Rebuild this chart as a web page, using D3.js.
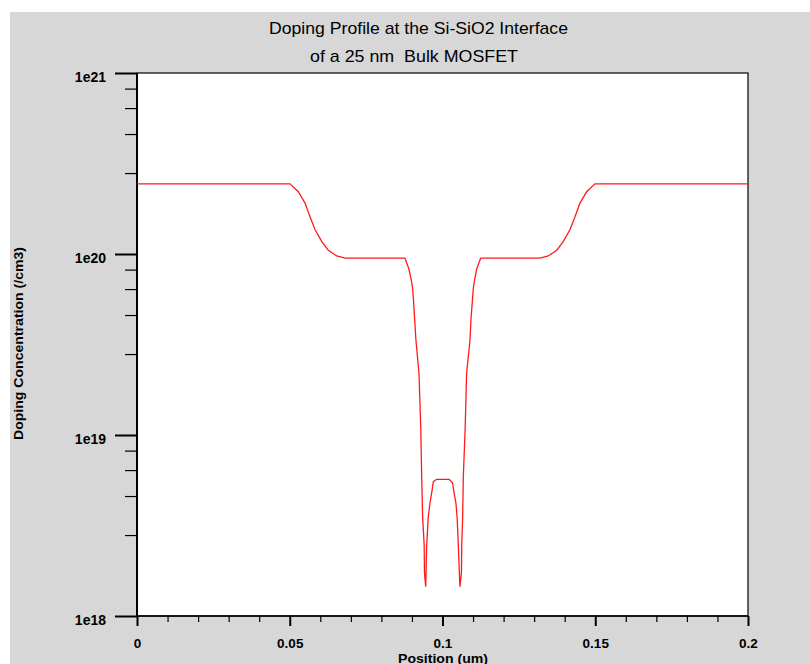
<!DOCTYPE html>
<html><head><meta charset="utf-8">
<script src="https://cdn.jsdelivr.net/npm/d3@7/dist/d3.min.js"></script>
<style>body{margin:0;background:#fff;} svg{display:block}</style>
</head><body>
<script>
const titleLines = ["Doping Profile at the Si-SiO2 Interface", "of a 25 nm  Bulk MOSFET"];
const xLabel = "Position (um)";
const yLabel = "Doping Concentration (/cm3)";

const positions = [
  0, 0.0501, 0.0528, 0.0550, 0.0566, 0.0583, 0.0605, 0.0626, 0.0654, 0.0681,
  0.0877, 0.0890, 0.0897, 0.0902, 0.0905, 0.0909, 0.0913, 0.0923, 0.0929, 0.0932,
  0.0935, 0.0940, 0.0941, 0.0945,
  0.0948, 0.0953, 0.0959, 0.0965, 0.0970, 0.0981, 0.1022, 0.1033, 0.1038, 0.1044,
  0.1048, 0.1052,
  0.1057, 0.1062, 0.1063, 0.1066, 0.1068, 0.1074, 0.1079, 0.1090, 0.1093, 0.1098,
  0.1101, 0.1105, 0.1112, 0.1125,
  0.1319, 0.1346, 0.1374, 0.1395, 0.1417, 0.1434, 0.1450, 0.1472, 0.1499, 0.2
];
const doping = [
  2.44e20, 2.44e20, 2.21e20, 1.91e20, 1.61e20, 1.36e20, 1.17e20, 1.05e20, 9.75e19, 9.5e19,
  9.5e19, 8.26e19, 7.28e19, 6.49e19, 5.57e19, 4.32e19, 3.35e19, 2.2e19, 1.07e19, 5.78e18,
  3.53e18, 2.47e18, 1.73e18, 1.45e18,
  2.41e18, 3.47e18, 4.21e18, 4.84e18, 5.52e18, 5.69e18, 5.69e18, 5.43e18, 4.78e18, 4.21e18,
  3.47e18, 2.41e18,
  1.45e18, 1.73e18, 2.47e18, 3.53e18, 5.78e18, 1.07e19, 2.2e19, 3.35e19, 4.32e19, 5.57e19,
  6.49e19, 7.2e19, 8.26e19, 9.5e19,
  9.5e19, 9.75e19, 1.05e20, 1.17e20, 1.36e20, 1.61e20, 1.91e20, 2.21e20, 2.44e20, 2.44e20
];

const xMajorTicks = [0, 0.05, 0.1, 0.15, 0.2];
const xTickLabels = ["0", "0.05", "0.1", "0.15", "0.2"];
const xMinorTicks = [0.01, 0.02, 0.03, 0.04, 0.06, 0.07, 0.08, 0.09, 0.11, 0.12, 0.13, 0.14, 0.16, 0.17, 0.18, 0.19];
const yMajorTicks = [1e18, 1e19, 1e20, 1e21];
const yTickLabels = ["1e18", "1e19", "1e20", "1e21"];
const yMinorTicks = [2.8e18, 4.6e18, 6.4e18, 8.2e18, 2.8e19, 4.6e19, 6.4e19, 8.2e19, 2.8e20, 4.6e20, 6.4e20, 8.2e20];

const W = 810, H = 664;
const plot = {left: 137, top: 73, right: 748, bottom: 616};

const svg = d3.select("body").append("svg").attr("width", W).attr("height", H);
svg.append("rect").attr("x", 0).attr("y", 0).attr("width", W).attr("height", H).attr("fill", "#ffffff");
svg.append("rect").attr("x", 10).attr("y", 12).attr("width", W - 10).attr("height", H - 12).attr("fill", "#d7d7d7");
svg.append("rect").attr("x", plot.left).attr("y", plot.top)
  .attr("width", plot.right - plot.left).attr("height", plot.bottom - plot.top)
  .attr("fill", "#ffffff").attr("stroke", "#000").attr("stroke-width", 1.2);

const x = d3.scaleLinear().domain([0, 0.2]).range([plot.left, plot.right]);
const y = d3.scaleLog().domain([1e18, 1e21]).range([plot.bottom, plot.top]);

const font = "'Liberation Sans', Arial, Helvetica, sans-serif";

// x axis major
const gxMaj = svg.append("g").attr("transform", `translate(0,${plot.bottom})`)
  .call(d3.axisBottom(x).tickValues(xMajorTicks).tickSize(10).tickPadding(12).tickSizeOuter(0)
    .tickFormat((d, i) => xTickLabels[i]));
gxMaj.select(".domain").remove();
gxMaj.selectAll("line").attr("stroke", "#000").attr("stroke-width", 2);
gxMaj.selectAll("text").attr("font-family", font).attr("font-weight", "bold").attr("font-size", 13.5).attr("fill", "#000");

const gxMin = svg.append("g").attr("transform", `translate(0,${plot.bottom})`)
  .call(d3.axisBottom(x).tickValues(xMinorTicks).tickSize(6).tickFormat(""));
gxMin.select(".domain").remove();
gxMin.selectAll("line").attr("stroke", "#000").attr("stroke-width", 1.2);

// y axis major
const gyMaj = svg.append("g").attr("transform", `translate(${plot.left},0)`)
  .call(d3.axisLeft(y).tickValues(yMajorTicks).tickSize(22).tickPadding(9).tickSizeOuter(0)
    .tickFormat((d, i) => yTickLabels[i]));
gyMaj.select(".domain").remove();
gyMaj.selectAll("line").attr("stroke", "#000").attr("stroke-width", 2);
gyMaj.selectAll("text").attr("font-family", font).attr("font-weight", "bold").attr("font-size", 14)
  .attr("fill", "#000").attr("dy", "0.6em");

const gyMin = svg.append("g").attr("transform", `translate(${plot.left},0)`)
  .call(d3.axisLeft(y).tickValues(yMinorTicks).tickSize(12).tickFormat(""));
gyMin.select(".domain").remove();
gyMin.selectAll("line").attr("stroke", "#000").attr("stroke-width", 1.2);

// thicker left & bottom axis lines
svg.append("line").attr("x1", plot.left).attr("x2", plot.left).attr("y1", plot.top).attr("y2", plot.bottom)
  .attr("stroke", "#000").attr("stroke-width", 2);
svg.append("line").attr("x1", plot.left).attr("x2", plot.right).attr("y1", plot.bottom).attr("y2", plot.bottom)
  .attr("stroke", "#000").attr("stroke-width", 1.6);

// data line
const data = positions.map((p, i) => [p, doping[i]]);
svg.append("path").datum(data)
  .attr("fill", "none").attr("stroke", "#ff1a1a").attr("stroke-width", 1.3)
  .attr("d", d3.line().x(d => x(d[0])).y(d => y(d[1])));

// titles
const titleY = [34, 62];
const titleLen = [299, 208];
const titleCx = [418.5, 414];
titleLines.forEach((t, i) => {
  svg.append("text").attr("x", titleCx[i]).attr("y", titleY[i])
    .attr("text-anchor", "middle").attr("font-family", "'Liberation Sans Narrow', 'Liberation Sans', Arial, sans-serif")
    .attr("font-size", 17).attr("fill", "#000").style("white-space", "pre")
    .attr("textLength", titleLen[i]).attr("lengthAdjust", "spacingAndGlyphs")
    .text(t);
});

// axis titles
svg.append("text").attr("x", 443).attr("y", 663)
  .attr("text-anchor", "middle").attr("font-family", font).attr("font-weight", "bold")
  .attr("font-size", 13.5).attr("fill", "#000")
  .attr("textLength", 90).attr("lengthAdjust", "spacingAndGlyphs").text(xLabel);

svg.append("text").attr("transform", "translate(23,343.5) rotate(-90)")
  .attr("text-anchor", "middle").attr("font-family", font).attr("font-weight", "bold")
  .attr("font-size", 13).attr("fill", "#000")
  .attr("textLength", 193).attr("lengthAdjust", "spacingAndGlyphs").text(yLabel);
</script>
</body></html>
